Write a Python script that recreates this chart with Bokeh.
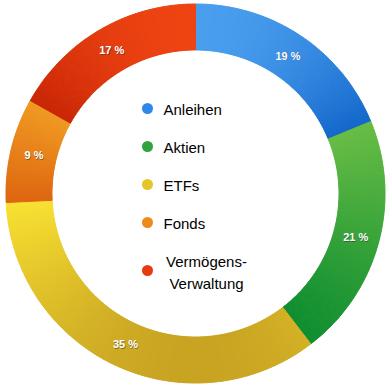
import math
from bokeh.plotting import figure
from bokeh.models import Range1d, ColumnDataSource
from bokeh.core.properties import value
from bokeh.embed import file_html
from bokeh.resources import INLINE

# ---- data ----
categories = ["Anleihen", "Aktien", "ETFs", "Fonds", "Vermögens-\nVerwaltung"]
percent = [19, 21, 35, 9, 17]
labels = ["19 %", "21 %", "35 %", "9 %", "17 %"]
top_colors = ["#55aaf6", "#6cbf46", "#f9e132", "#f2a024", "#f84c16"]
bottom_colors = ["#0f63c8", "#078a2e", "#c29b20", "#de6410", "#c42204"]
dot_colors = ["#2d88ea", "#2ea33e", "#e4c52a", "#ec8a1c", "#e63a10"]

# ---- layout ----
W, H = 391, 388
CX, CY = 195, 193          # pixel position of donut centre
R_OUT, R_IN = 189.5, 143.5
R_LAB = 166

p = figure(width=W, height=H, x_range=Range1d(-CX, W - CX), y_range=Range1d(-(H - CY), CY),
           output_backend="svg", toolbar_location=None, min_border=0)
p.axis.visible = False
p.grid.visible = False
p.outline_line_color = None
p.background_fill_color = "white"
p.border_fill_color = "white"


def hex2rgb(h):
    return [int(h[i:i + 2], 16) for i in (1, 3, 5)]


def mix(c1, c2, t):
    a, b = hex2rgb(c1), hex2rgb(c2)
    return "#%02x%02x%02x" % tuple(int(round(a[k] + (b[k] - a[k]) * t)) for k in range(3))


total = float(sum(percent))
xs, ys, sa, ea, cols = [], [], [], [], []
lab_x, lab_y = [], []
cum = 0.0
STEP = 0.5
for i, v in enumerate(percent):
    th0 = cum / total * 360.0
    th1 = (cum + v) / total * 360.0
    cum += v
    pts = []
    n = 200
    for k in range(n + 1):
        th = math.radians(th0 + (th1 - th0) * k / n)
        for r in (R_IN, R_OUT):
            pts.append(r * math.cos(th))
    ymax, ymin = max(pts), min(pts)
    nsub = max(1, int(math.ceil((th1 - th0) / STEP)))
    for k in range(nsub):
        a0 = th0 + (th1 - th0) * k / nsub
        a1 = th0 + (th1 - th0) * (k + 1) / nsub
        am = math.radians((a0 + a1) / 2)
        ym = (R_IN + R_OUT) / 2 * math.cos(am)
        t = (ymax - ym) / (ymax - ymin) if ymax > ymin else 0.5
        xs.append(0)
        ys.append(0)
        sa.append(math.radians(90 - a1))
        ea.append(math.radians(90 - a0 + 0.05))
        cols.append(mix(top_colors[i], bottom_colors[i], t))
    mid = math.radians((th0 + th1) / 2)
    lab_x.append(R_LAB * math.sin(mid))
    lab_y.append(R_LAB * math.cos(mid))

src = ColumnDataSource(dict(x=xs, y=ys, sa=sa, ea=ea, c=cols))
p.annular_wedge(x="x", y="y", inner_radius=R_IN, outer_radius=R_OUT,
                start_angle="sa", end_angle="ea", fill_color="c", line_color="c",
                line_width=1.0, source=src)

# percent labels with shadow
p.text(x=[x + 0.6 for x in lab_x], y=[y - 0.8 for y in lab_y], text=labels,
       text_font=value("Liberation Sans"), text_font_size="11px", text_font_style="bold",
       text_color="#333333", text_alpha=0.55, text_align="center", text_baseline="middle")
p.text(x=lab_x, y=lab_y, text=labels,
       text_font=value("Liberation Sans"), text_font_size="11px", text_font_style="bold",
       text_color="white", text_align="center", text_baseline="middle")

# legend
leg_dot_x = 147 - CX
leg_txt_x = 163 - CX
row_y = [108 + 38 * i for i in range(4)] + [270]
dot_y = [CY - y for y in row_y]
p.scatter(x=[leg_dot_x] * len(categories), y=dot_y, size=11, fill_color=dot_colors,
          line_color=None)
p.text(x=[leg_txt_x] * 4, y=[CY - (y + 1.4) for y in row_y[:4]], text=categories[:4],
       text_font=value("Liberation Sans"), text_font_size="15px", text_color="black",
       text_align="left", text_baseline="middle")
p.text(x=[206 - CX], y=[CY - 272], text=categories[4:],
       text_font=value("Liberation Sans"), text_font_size="15px", text_color="black",
       text_align="center", text_baseline="middle", text_line_height=1.25)

open("out.html", "w").write(file_html(p, INLINE))
